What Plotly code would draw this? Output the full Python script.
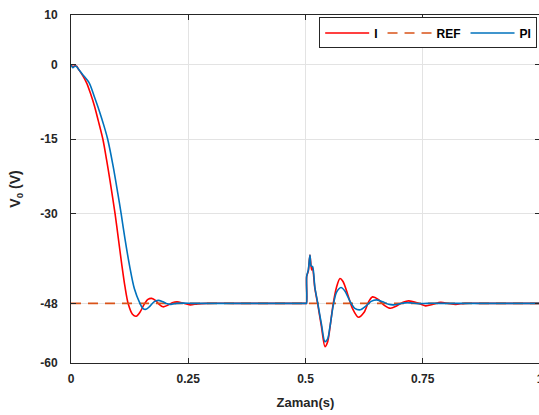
import plotly.graph_objects as go

# ---- data ----
t_I = [0, 0.004, 0.008, 0.012, 0.016, 0.025, 0.0335, 0.042, 0.05, 0.058, 0.068, 0.076, 0.083, 0.094,
       0.101, 0.108, 0.115, 0.122, 0.131, 0.139, 0.147, 0.156, 0.164, 0.172, 0.18, 0.188, 0.196, 0.206,
       0.216, 0.226, 0.24, 0.254, 0.27, 0.29, 0.35, 0.45, 0.5, 0.502, 0.5025, 0.506, 0.5095,
       0.513, 0.515, 0.520, 0.526, 0.534, 0.5415, 0.547, 0.552, 0.559, 0.566, 0.5735, 0.58,
       0.59, 0.60, 0.613, 0.625, 0.635, 0.643, 0.655, 0.668, 0.681, 0.695, 0.708, 0.720,
       0.738, 0.756, 0.772, 0.788, 0.804, 0.820, 0.84, 0.87, 0.92, 1.0]
v_I = [0, -0.4, -0.2, -0.3, -0.9, -2.2, -3.7, -5.9, -8.3, -11.2, -15.0, -19.2, -23.2, -30.0,
       -35.0, -40.0, -44.6, -48.1, -50.2, -50.6, -49.8, -48.2, -47.2, -47.0, -47.4, -48.2, -48.7, -48.4,
       -47.9, -47.7, -48.0, -48.3, -48.1, -48.0, -48.0, -48.0, -48.0, -48.0, -42.6, -41.5, -38.3,
       -41.3, -40.8, -45.0, -48.1, -52.7, -56.7, -55.8, -53.0, -48.1, -44.8, -43.0, -43.6,
       -46.2, -49.0, -50.8, -49.8, -47.6, -46.7, -47.2, -48.4, -49.0, -48.5, -47.8, -47.5,
       -47.9, -48.5, -48.2, -47.8, -48.0, -48.2, -48.0, -48.0, -48.0, -48.0]

t_PI = [0, 0.004, 0.008, 0.012, 0.016, 0.025, 0.039, 0.05, 0.06, 0.07, 0.078, 0.09, 0.1,
        0.107, 0.115, 0.125, 0.135, 0.147, 0.153, 0.16, 0.168, 0.177, 0.186, 0.196, 0.205,
        0.213, 0.225, 0.24, 0.26, 0.3, 0.4, 0.49, 0.5, 0.502, 0.5025, 0.506, 0.5095, 0.512,
        0.515, 0.520, 0.526, 0.534, 0.5415, 0.547, 0.552, 0.559, 0.566, 0.5757, 0.584, 0.595,
        0.605, 0.617, 0.628, 0.64, 0.652, 0.665, 0.677, 0.688, 0.70, 0.712, 0.724, 0.74,
        0.76, 0.8, 1.0]
v_PI = [0, -0.6, -0.3, -0.4, -0.9, -2.0, -3.7, -6.5, -9.2, -12.2, -14.9, -20.5, -26.0,
        -30.0, -35.0, -40.5, -45.0, -48.0, -49.0, -49.2, -48.6, -47.7, -47.4, -47.7, -48.1,
        -48.2, -48.0, -47.95, -48.0, -48.0, -48.0, -48.0, -48.0, -48.0, -42.6, -41.3, -38.3, -40.5,
        -40.6, -44.8, -47.9, -52.2, -55.7, -55.2, -52.8, -48.5, -45.8, -44.8, -45.5, -47.6,
        -49.0, -49.3, -48.6, -47.6, -47.3, -47.7, -48.2, -48.3, -48.1, -47.9, -47.9, -48.05,
        -48.0, -48.0, -48.0]

t_REF = [0, 1]
v_REF = [-48, -48]

x_ticks = [0, 0.25, 0.5, 0.75, 1]
x_ticklabels = ["0", "0.25", "0.5", "0.75", "1"]
y_ticks = [10, 0, -15, -30, -48, -60]
y_ticklabels = ["10", "0", "-15", "-30", "-48", "-60"]

FONT = "Liberation Sans, Arial, sans-serif"

fig = go.Figure()
fig.add_trace(go.Scatter(x=t_I, y=v_I, name="I", mode="lines",
                         line=dict(color="#FF0000", width=1.6, shape="spline", smoothing=0.8)))
fig.add_trace(go.Scatter(x=t_REF, y=v_REF, name="REF", mode="lines",
                         line=dict(color="#D95319", width=1.6, dash="10px,7px")))
fig.add_trace(go.Scatter(x=t_PI, y=v_PI, name="PI", mode="lines",
                         line=dict(color="#0072BD", width=1.6, shape="spline", smoothing=0.8)))

axis_common = dict(
    showline=True, linecolor="#262626", linewidth=1, mirror="ticks",
    ticks="inside", ticklen=5, tickcolor="#262626",
    showgrid=True, gridcolor="#E3E3E3", gridwidth=1, zeroline=False,
    ticklabeloverflow="allow",
    tickfont=dict(family=FONT, size=12, color="#262626", weight="bold"),
)

fig.update_xaxes(range=[0, 1], tickvals=x_ticks, ticktext=x_ticklabels,
                 ticklabelstandoff=5,
                 title=dict(text="Zaman(s)", font=dict(family=FONT, size=13, color="#262626", weight="bold"),
                            standoff=12),
                 **axis_common)
fig.update_yaxes(range=[-60, 10], tickvals=y_ticks, ticktext=y_ticklabels,
                 ticklabelstandoff=10,
                 title=dict(text="V<sub>0</sub> (V)", font=dict(family=FONT, size=14, color="#262626", weight="bold"),
                            standoff=16),
                 **axis_common)

fig.update_layout(
    width=540, height=415,
    margin=dict(l=71, r=0, t=15, b=52, autoexpand=False),
    plot_bgcolor="white", paper_bgcolor="white",
    showlegend=True,
    legend=dict(orientation="h", x=0.994, y=0.993, xanchor="right", yanchor="top",
                bordercolor="#262626", borderwidth=1, bgcolor="white",
                font=dict(family=FONT, size=12, color="#000000", weight="bold"),
                itemwidth=44, tracegroupgap=0),
)

# remove the default page margin so the figure sits at the top-left of the window
fig.write_html("out.html",
               config={"displayModeBar": False},
               post_script="document.body.style.margin='0';"
                           "document.documentElement.style.overflow='hidden';"
                           "document.body.style.overflow='hidden';")
